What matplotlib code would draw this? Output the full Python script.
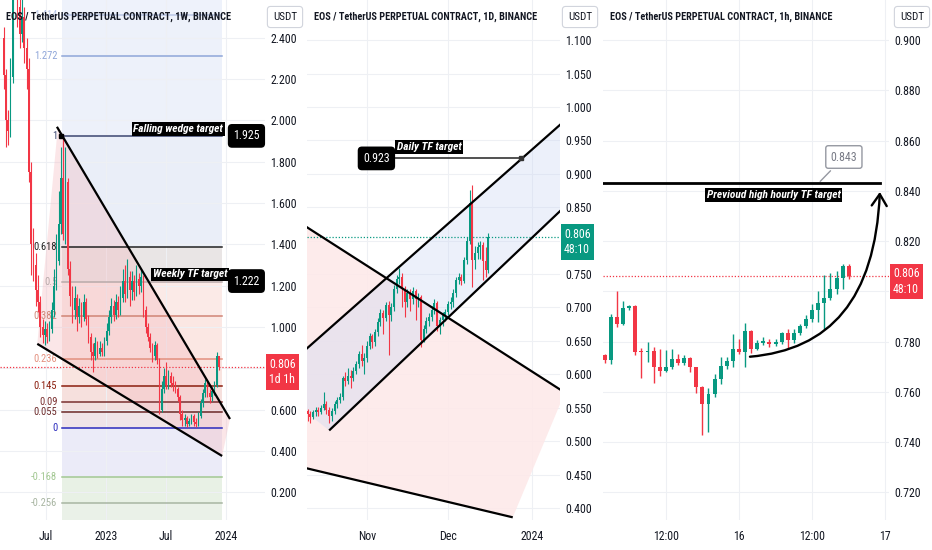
import numpy as np
import pandas as pd
import matplotlib
matplotlib.use('Agg')
import matplotlib.pyplot as plt
import matplotlib.dates as mdates
from matplotlib import font_manager as fm
from matplotlib.patches import Polygon, FancyArrowPatch
from matplotlib.path import Path
from matplotlib.ticker import FuncFormatter
from matplotlib.transforms import blended_transform_factory as blend

avail = set(fm.get_font_names())
narrow = [f for f in ['Liberation Sans Narrow', 'Roboto Condensed', 'Open Sans Condensed'] if f in avail]
plt.rcParams['font.family'] = narrow[:1] + ['DejaVu Sans']
plt.rcParams['font.stretch'] = 'condensed'

GREEN = '#089981'
RED = '#f23645'
INK = '#131722'
GRID = '#eef0f4'

# ---------------- 1W data ----------------
w_first = '2022-02-21'
w_open0 = 2.40
w_close = [2.22, 2.00, 1.95, 2.21, 2.70, 2.90, 2.55, 2.42, 2.50, 2.35,
           2.25, 1.75, 1.40, 1.30, 1.18, 1.12, 1.00, 0.96, 0.99, 0.95,
           0.99, 1.08, 1.20, 1.32, 1.50, 1.72, 1.45, 1.70, 1.28, 1.15,
           1.08, 1.14, 1.05, 1.10, 1.05, 1.12, 1.04, 0.95, 0.88, 0.86,
           0.92, 0.87, 0.90, 0.88, 0.93, 0.98, 1.05, 1.10, 1.06, 1.12,
           1.08, 1.14, 1.22, 1.16, 1.24, 1.18, 1.22, 1.17, 1.23, 1.20,
           1.24, 1.08, 1.00, 0.95, 0.90, 0.86, 0.91, 0.84, 0.60, 0.70,
           0.76, 0.72, 0.76, 0.73, 0.72, 0.70, 0.66, 0.58, 0.55, 0.56,
           0.53, 0.545, 0.57, 0.54, 0.53, 0.57, 0.63, 0.68, 0.73, 0.68,
           0.66, 0.69, 0.72, 0.86, 0.806]
w_high = [2.45, 2.25, 2.05, 2.30, 2.85, 3.00, 2.95, 2.60, 2.65, 2.55,
          2.40, 2.30, 1.80, 1.48, 1.36, 1.25, 1.15, 1.04, 1.03, 1.02,
          1.03, 1.12, 1.28, 1.45, 1.66, 1.87, 1.935, 1.87, 1.72, 1.32,
          1.20, 1.20, 1.16, 1.14, 1.12, 1.16, 1.14, 1.06, 0.97, 0.92,
          0.95, 0.93, 0.93, 0.92, 0.95, 1.02, 1.08, 1.14, 1.13, 1.16,
          1.15, 1.20, 1.28, 1.30, 1.33, 1.27, 1.27, 1.25, 1.30, 1.26,
          1.28, 1.25, 1.10, 1.02, 0.97, 0.92, 0.93, 0.92, 0.85, 0.74,
          0.80, 0.83, 0.79, 0.78, 0.76, 0.74, 0.71, 0.67, 0.60, 0.58,
          0.57, 0.56, 0.58, 0.58, 0.56, 0.59, 0.65, 0.70, 0.75, 0.74,
          0.70, 0.71, 0.74, 0.88, 0.86]
w_low = [2.15, 1.87, 1.88, 1.92, 2.18, 2.60, 2.45, 2.35, 2.38, 2.28,
         2.15, 1.70, 1.25, 1.22, 1.10, 1.07, 0.95, 0.92, 0.91, 0.92,
         0.93, 0.97, 1.05, 1.18, 1.30, 1.45, 1.42, 1.40, 1.25, 1.10,
         1.02, 1.04, 0.98, 1.02, 1.00, 1.03, 1.01, 0.92, 0.84, 0.78,
         0.84, 0.85, 0.86, 0.86, 0.86, 0.91, 0.96, 1.02, 1.03, 1.04,
         1.05, 1.06, 1.12, 1.12, 1.14, 1.10, 1.13, 1.13, 1.15, 1.16,
         1.17, 1.05, 0.97, 0.93, 0.88, 0.83, 0.84, 0.82, 0.58, 0.59,
         0.68, 0.70, 0.70, 0.71, 0.69, 0.68, 0.64, 0.55, 0.52, 0.52,
         0.515, 0.52, 0.53, 0.52, 0.515, 0.52, 0.56, 0.61, 0.66, 0.66,
         0.63, 0.64, 0.67, 0.71, 0.79]

fib_hi, fib_lo = 1.925, 0.511
fib_levels = [1.414, 1.272, 1, 0.618, 0.5, 0.382, 0.236, 0.145, 0.09, 0.055, 0, -0.168, -0.256]
fib_line_colors = ['#b9c6e6', '#8fa6d9', '#3c4670', '#222222', '#b8aaaa', '#d08576', '#e3907f',
                   '#8b1e0e', '#7a3030', '#6b2a2a', '#2b2bbd', '#a3c893', '#a8b5a2']
fib_band_colors = ['#edf1fa', '#edf1fa', '#eaeef8', '#e9e5e5', '#fbeae7', '#fbe7e3', '#f9e4e0',
                   '#f6e0dd', '#f3e0df', '#f0e4e8', '#ebebf8', '#e8f1e5', '#eaf1e8']
fib_span = ['2022-08-18', '2023-12-21']
wedge_upper = (['2022-08-03', '2024-01-14'], [1.969, 0.554])
wedge_lower = (['2022-06-04', '2023-12-21'], [0.918, 0.375])
wedge_fill = (['2022-08-06', '2022-06-04', '2023-12-21', '2024-01-14'], [1.969, 0.918, 0.375, 0.554])
w_targets = [('Falling wedge target', '2023-12-24', 1.959, 1.925),
             ('Weekly TF target', '2024-01-05', 1.254, 1.222)]

# ---------------- 1D data ----------------
d_first = '2023-10-10'
d_open0 = 0.545
d_close = [0.540, 0.536, 0.543, 0.547, 0.544, 0.550, 0.556, 0.547, 0.538, 0.545,
           0.556, 0.561, 0.566, 0.594, 0.590, 0.597, 0.594, 0.605, 0.616, 0.630,
           0.620, 0.624, 0.643, 0.657, 0.648, 0.663, 0.678, 0.692, 0.684, 0.703,
           0.688, 0.700, 0.728, 0.742, 0.746, 0.728, 0.708, 0.722, 0.712, 0.724,
           0.712, 0.716, 0.652, 0.668, 0.680, 0.686, 0.696, 0.707, 0.672, 0.681,
           0.688, 0.693, 0.705, 0.708, 0.722, 0.741, 0.745, 0.740, 0.771, 0.800,
           0.856, 0.771, 0.782, 0.790, 0.793, 0.770, 0.756, 0.806]
d_high = [0.548, 0.545, 0.547, 0.551, 0.551, 0.554, 0.573, 0.560, 0.551, 0.549,
          0.560, 0.566, 0.572, 0.598, 0.604, 0.610, 0.606, 0.611, 0.620, 0.635,
          0.644, 0.632, 0.650, 0.662, 0.660, 0.668, 0.684, 0.697, 0.696, 0.708,
          0.710, 0.706, 0.733, 0.748, 0.759, 0.752, 0.732, 0.728, 0.727, 0.731,
          0.728, 0.722, 0.718, 0.674, 0.686, 0.692, 0.702, 0.712, 0.710, 0.686,
          0.693, 0.698, 0.710, 0.716, 0.728, 0.746, 0.752, 0.750, 0.776, 0.806,
          0.876, 0.883, 0.792, 0.798, 0.800, 0.798, 0.790, 0.812]
d_low = [0.530, 0.527, 0.533, 0.538, 0.538, 0.540, 0.546, 0.540, 0.527, 0.530,
         0.540, 0.550, 0.557, 0.562, 0.582, 0.585, 0.580, 0.590, 0.600, 0.610,
         0.613, 0.600, 0.618, 0.638, 0.640, 0.643, 0.658, 0.672, 0.660, 0.680,
         0.629, 0.680, 0.695, 0.722, 0.735, 0.700, 0.686, 0.700, 0.695, 0.705,
         0.681, 0.700, 0.641, 0.648, 0.662, 0.672, 0.680, 0.690, 0.665, 0.660,
         0.673, 0.680, 0.688, 0.697, 0.700, 0.716, 0.735, 0.733, 0.736, 0.765,
         0.795, 0.731, 0.758, 0.772, 0.772, 0.741, 0.745, 0.752]
chan_upper = (['2023-10-09', '2024-01-12'], [0.636, 0.975])
chan_lower = (['2023-10-18', '2024-01-12'], [0.516, 0.846])
chan_fill = (['2023-10-09', '2024-01-12', '2024-01-12', '2023-10-18', '2023-10-09'],
             [0.636, 0.975, 0.846, 0.516, 0.545])
desc_upper = (['2023-10-09', '2024-01-12'], [0.822, 0.576])
desc_lower = (['2023-10-09', '2023-12-25'], [0.460, 0.386])
desc_fill = (['2023-10-09', '2024-01-12', '2024-01-12', '2023-12-25', '2023-10-09'],
             [0.822, 0.576, 0.560, 0.386, 0.460])
daily_target = 0.923
daily_target_span = ['2023-11-10', '2023-12-28']

# ---------------- 1h data ----------------
h_first = '2023-12-15 02:00'
h_open0 = 0.7745
h_close = [0.7725, 0.7900, 0.7870, 0.7935, 0.7940, 0.7760, 0.7757, 0.7762, 0.7700, 0.7685,
           0.7698, 0.7730, 0.7715, 0.7735, 0.7700, 0.7620, 0.7553, 0.7593, 0.7652, 0.7704,
           0.7724, 0.7770, 0.7760, 0.7843, 0.7770, 0.7795, 0.7800, 0.7790, 0.7797, 0.7835,
           0.7808, 0.7835, 0.7864, 0.7890, 0.7927, 0.7955, 0.7975, 0.8010, 0.8054, 0.8100,
           0.8060]
h_high = [0.7750, 0.7910, 0.8000, 0.7960, 0.7945, 0.7945, 0.7775, 0.7800, 0.7780, 0.7770,
          0.7765, 0.7770, 0.7750, 0.7745, 0.7740, 0.7700, 0.7625, 0.7615, 0.7670, 0.7740,
          0.7740, 0.7830, 0.7810, 0.7875, 0.7845, 0.7805, 0.7820, 0.7812, 0.7810, 0.7840,
          0.7850, 0.7852, 0.7870, 0.7908, 0.7948, 0.8000, 0.8067, 0.8074, 0.8080, 0.8110,
          0.8108]
h_low = [0.7715, 0.7710, 0.7860, 0.7865, 0.7925, 0.7745, 0.7657, 0.7720, 0.7637, 0.7665,
         0.7680, 0.7690, 0.7708, 0.7708, 0.7680, 0.7595, 0.7430, 0.7440, 0.7580, 0.7630,
         0.7690, 0.7700, 0.7750, 0.7700, 0.7755, 0.7765, 0.7785, 0.7780, 0.7782, 0.7790,
         0.7775, 0.7795, 0.7828, 0.7856, 0.7880, 0.7880, 0.7850, 0.7965, 0.7990, 0.8010,
         0.8050]
hourly_target = 0.843
hourly_target_span = ['2023-12-15 01:00', '2023-12-16 23:06']
curve_t = ['2023-12-16 01:48', '2023-12-16 14:54', '2023-12-16 22:18', '2023-12-16 23:06']
curve_p = [0.774, 0.7768, 0.7967, 0.8396]

last_price = 0.806


def T(x):
    return mdates.date2num(pd.to_datetime(x, format='ISO8601'))


W, H = 932, 550
fig = plt.figure(figsize=(W / 100, H / 100), dpi=100)
fig.patch.set_facecolor('white')


def rect(x0, x1, y0=0, y1=520):
    return [x0 / W, 1 - y1 / H, (x1 - x0) / W, (y1 - y0) / H]


def price_fmt(v, pos):
    # the tick under the live price tag is hidden, as on the chart
    return '' if abs(v - 0.8) < 1e-6 else '%.3f' % v


def style(ax, xlim, ylim, yticks, xticks, xlabels):
    ax.set_xlim(T(xlim[0]), T(xlim[1]))
    ax.set_ylim(*ylim)
    for s in ax.spines.values():
        s.set_visible(False)
    ax.yaxis.tick_right()
    ax.set_yticks(yticks)
    ax.yaxis.set_major_formatter(FuncFormatter(price_fmt))
    ax.set_xticks(T(xticks))
    ax.set_xticklabels(xlabels)
    ax.tick_params(length=0, labelsize=8.6, colors=INK)
    ax.tick_params(axis='y', pad=4)
    ax.tick_params(axis='x', pad=7)
    ax.grid(True, color=GRID, lw=0.8)
    ax.set_axisbelow(True)


def candles(ax, first, freq, open0, close, high, low, width, wick):
    c = np.asarray(close, float)
    o = np.r_[open0, c[:-1]]
    t = T(pd.date_range(first, periods=len(c), freq=freq))
    col = np.where(c >= o, GREEN, RED)
    ax.vlines(t, low, high, colors=col, lw=wick, zorder=3)
    lo, hi = ax.get_ylim()
    body = np.maximum(np.abs(c - o), (hi - lo) * 0.003)
    ax.bar(t, body, width, bottom=np.minimum(o, c), color=col, lw=0, zorder=3)


def tline(ax, pts, **kw):
    ax.plot(T(pts[0]), pts[1], color='black', solid_capstyle='butt', zorder=5, **kw)


def price_tag(ax, text, color):
    ax.annotate(text, xy=(1.0, last_price), xycoords=blend(ax.transAxes, ax.transData),
                xytext=(3, 6.5), textcoords='offset points', ha='left', va='top',
                color='white', fontsize=8.6, linespacing=1.25, zorder=10, annotation_clip=False,
                bbox=dict(boxstyle='square,pad=0.3', fc=color, ec='none'))


black_box = dict(boxstyle='square,pad=0.15', fc='black', ec='none')
round_box = dict(boxstyle='round,pad=0.45,rounding_size=0.35', fc='black', ec='none')

# ================= panel 1 : 1W =================
ax1 = fig.add_axes(rect(0, 265))
style(ax1, ('2022-02-10', '2024-04-30'), (0.065, 2.583), np.arange(0.2, 2.41, 0.2),
      ['2022-07-01', '2023-01-01', '2023-07-01', '2024-01-01'], ['Jul', '2023', 'Jul', '2024'])

ft = T(fib_span)
fp = [fib_lo + lv * (fib_hi - fib_lo) for lv in fib_levels]
edges = [2.583] + fp + [0.065]
for k, bc in enumerate(['#eef2fb'] + fib_band_colors):
    ax1.fill_between(ft, edges[k], edges[k + 1], color=bc, lw=0, zorder=0.3)
for lv, p, lc in zip(fib_levels, fp, fib_line_colors):
    ax1.plot(ft, [p, p], color=lc, lw=1.1, zorder=1)
    ax1.text(T('2022-08-04'), p, '{:g}'.format(lv), color=lc, fontsize=7.6,
             ha='right', va='center', zorder=1)

ax1.add_patch(Polygon(np.c_[T(wedge_fill[0]), wedge_fill[1]], closed=True,
                      fc='#f4b8be', ec='none', alpha=0.35, zorder=0.8))
ax1.axhline(last_price, color=RED, ls=(0, (1, 1.5)), lw=0.9, zorder=2)
candles(ax1, w_first, '7D', w_open0, w_close, w_high, w_low, 4.6, 0.8)
tline(ax1, wedge_upper, lw=1.6)
tline(ax1, wedge_lower, lw=1.6)
ax1.plot(T('2022-08-15'), fib_hi, 's', color='black', ms=2.5, zorder=6)

for label, tx, ty, val in w_targets:
    ax1.text(T(tx), ty, label, color='white', fontsize=8.2, fontstyle='italic',
             fontweight='bold', ha='right', va='center', zorder=7, bbox=black_box)
    ax1.text(0.93, val, '{:.3f}'.format(val), transform=blend(ax1.transAxes, ax1.transData),
             color='white', fontsize=8.6, ha='center', va='center', zorder=7, bbox=round_box)
price_tag(ax1, '0.806\n1d 1h', RED)

# ================= panel 2 : 1D =================
ax2 = fig.add_axes(rect(307, 560))
style(ax2, ('2023-10-09 19:00', '2024-01-11 12:00'), (0.382, 1.160), np.arange(0.4, 1.101, 0.05),
      ['2023-11-01', '2023-12-01', '2024-01-01'], ['Nov', 'Dec', '2024'])

ax2.add_patch(Polygon(np.c_[T(desc_fill[0]), desc_fill[1]], closed=True,
                      fc='#fde9e9', ec='none', alpha=0.9, zorder=0.6))
ax2.add_patch(Polygon(np.c_[T(chan_fill[0]), chan_fill[1]], closed=True,
                      fc='#c9d6f3', ec='none', alpha=0.35, zorder=0.7))
ax2.axhline(last_price, color=GREEN, ls=(0, (1, 1.5)), lw=0.9, zorder=2)
candles(ax2, d_first, '1D', d_open0, d_close, d_high, d_low, 0.72, 0.8)
for ln in (chan_upper, chan_lower, desc_upper, desc_lower):
    tline(ax2, ln, lw=1.6)
dt = T(daily_target_span)
ax2.plot(dt, [daily_target] * 2, color='#333333', lw=1.2, zorder=5)
ax2.plot(dt[1], daily_target, 's', color='#333333', ms=2.5, zorder=6)
ax2.text(T('2023-11-12'), 0.940, 'Daily TF target', color='white', fontsize=8.2,
         fontstyle='italic', fontweight='bold', ha='left', va='center', zorder=7, bbox=black_box)
ax2.text(T('2023-11-04 12:00'), daily_target, '{:.3f}'.format(daily_target), color='white',
         fontsize=8.6, ha='center', va='center', zorder=7, bbox=round_box)
price_tag(ax2, '0.806\n48:10', GREEN)

# ================= panel 3 : 1h =================
ax3 = fig.add_axes(rect(603, 889))
style(ax3, ('2023-12-15 01:42', '2023-12-17 00:36'), (0.709, 0.916), np.arange(0.72, 0.901, 0.02),
      ['2023-12-15 12:00', '2023-12-16 00:00', '2023-12-16 12:00', '2023-12-17 00:00'],
      ['12:00', '16', '12:00', '17'])

ax3.axhline(last_price, color=RED, ls=(0, (1, 1.5)), lw=0.9, zorder=2)
candles(ax3, h_first, '1h', h_open0, h_close, h_high, h_low, 0.65 / 24, 1.0)
ax3.plot(T(hourly_target_span), [hourly_target] * 2, color='black', lw=2.0, zorder=5)
ax3.annotate('{:.3f}'.format(hourly_target), xy=(T('2023-12-16 13:00'), hourly_target),
             xytext=(T('2023-12-16 17:12'), 0.8535), color='#787b86', fontsize=8.6,
             ha='center', va='center', zorder=7,
             bbox=dict(boxstyle='round,pad=0.4,rounding_size=0.2', fc='white', ec='#9598a1', lw=1),
             arrowprops=dict(arrowstyle='-', color='#9598a1', lw=1))
ax3.text(T('2023-12-16 05:42'), 0.8384, 'Previoud high hourly TF target', color='white',
         fontsize=8.2, fontstyle='italic', fontweight='bold', ha='center', va='center',
         zorder=7, bbox=black_box)
curve = Path(np.c_[T(curve_t), curve_p], [Path.MOVETO, Path.CURVE4, Path.CURVE4, Path.CURVE4])
ax3.add_patch(FancyArrowPatch(path=curve, transform=ax3.transData, arrowstyle='->,head_length=0.7,head_width=0.45',
                              mutation_scale=12, color='black', lw=1.7, zorder=6))
price_tag(ax3, '0.806\n48:10', RED)

# ================= headers =================
titles = ['EOS / TetherUS PERPETUAL CONTRACT, 1W, BINANCE',
          'EOS / TetherUS PERPETUAL CONTRACT, 1D, BINANCE',
          'EOS / TetherUS PERPETUAL CONTRACT, 1h, BINANCE']
for x0, title, ux in zip([6, 314, 610], titles, [285, 580, 912]):
    fig.text(x0 / W, 1 - 17 / H, title, color=INK, fontsize=7.4, fontweight='bold',
             ha='left', va='center')
    fig.text(ux / W, 1 - 17 / H, 'USDT', color=INK, fontsize=8, ha='center', va='center',
             bbox=dict(boxstyle='round,pad=0.5,rounding_size=0.3', fc='white', ec='#d1d4dc', lw=0.8))

fig.savefig('out.png', dpi=100, facecolor='white')
